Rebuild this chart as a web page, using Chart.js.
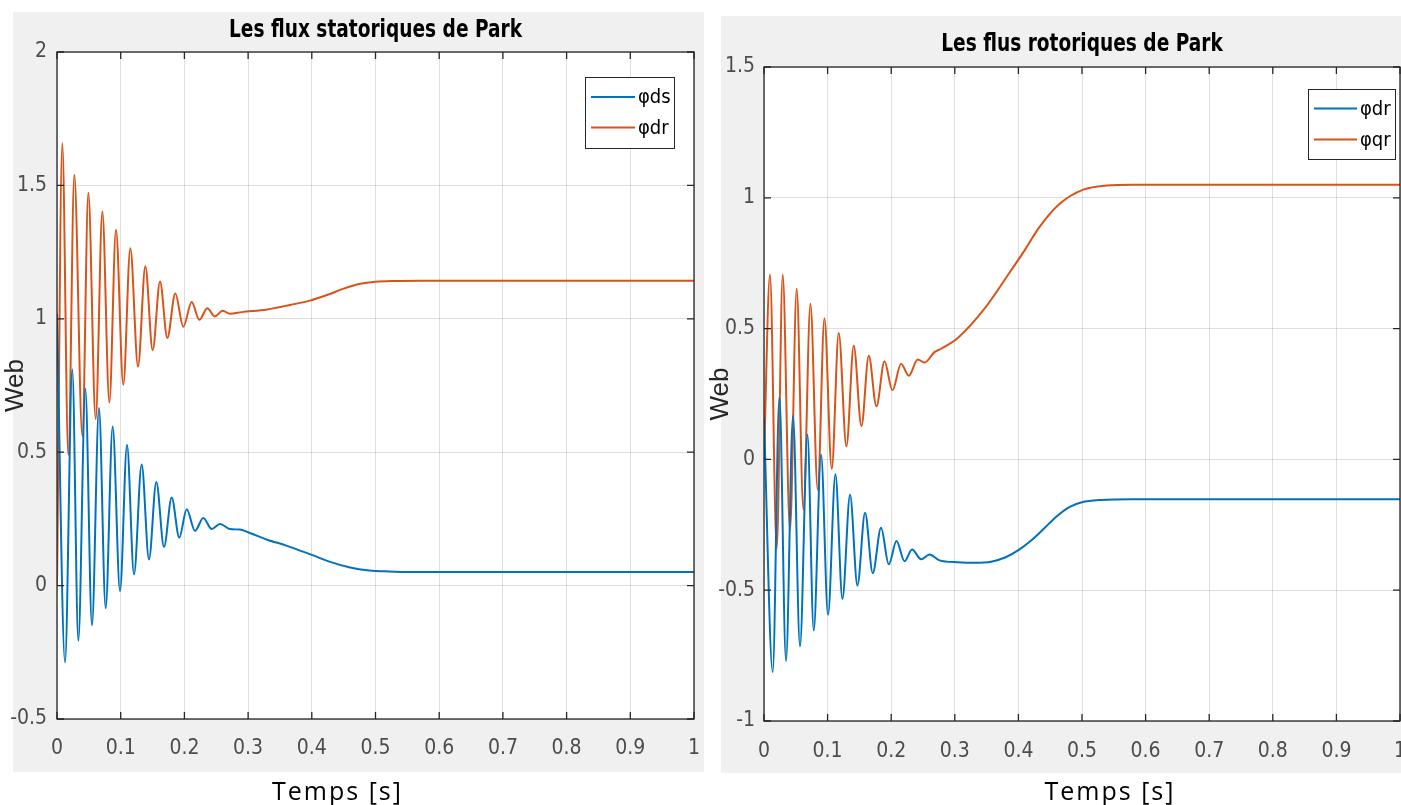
<!DOCTYPE html>
<html lang="fr">
<head>
<meta charset="utf-8">
<title>Flux de Park</title>
<script src="https://cdn.jsdelivr.net/npm/chart.js@4.4.1/dist/chart.umd.min.js"></script>
<style>
  html, body { margin: 0; padding: 0; background: #ffffff; }
  #wrap { position: relative; width: 1401px; height: 805px; overflow: hidden; }
  canvas { position: absolute; top: 0; }
  #stator { left: 0; }
  #rotor { left: 705px; }
</style>
</head>
<body>
<div id="wrap">
  <canvas id="stator" width="705" height="805"></canvas>
  <canvas id="rotor" width="696" height="805"></canvas>
</div>
<script>
// ---- axis ticks ----
const xTickValues = [0, 0.1, 0.2, 0.3, 0.4, 0.5, 0.6, 0.7, 0.8, 0.9, 1];
const xTickLabels = ['0', '0.1', '0.2', '0.3', '0.4', '0.5', '0.6', '0.7', '0.8', '0.9', '1'];
const statorYTickValues = [-0.5, 0, 0.5, 1, 1.5, 2];
const statorYTickLabels = ['-0.5', '0', '0.5', '1', '1.5', '2'];
const rotorYTickValues = [-1, -0.5, 0, 0.5, 1, 1.5];
const rotorYTickLabels = ['-1', '-0.5', '0', '0.5', '1', '1.5'];

// ---- series names ----
const statorSeriesLabels = ['φds', 'φdr'];
const rotorSeriesLabels = ['φdr', 'φqr'];

// ---- stator flux, d axis (time in s, flux in Wb) ----
const tStatorD = [0, 0.0126, 0.024, 0.0335, 0.0445, 0.0549, 0.0659, 0.0764, 0.0874, 0.0989,
  0.1099, 0.1209, 0.1329, 0.1444, 0.1559, 0.168, 0.18, 0.192, 0.2036, 0.2166,
  0.2297, 0.2428, 0.2559, 0.2716, 0.287, 0.30, 0.33, 0.36, 0.40, 0.43,
  0.46, 0.49, 0.52, 0.56, 0.65, 1.0];
const phiStatorD = [1.02, -0.288, 0.811, -0.207, 0.738, -0.149, 0.666, -0.085, 0.596, -0.020,
  0.527, 0.042, 0.454, 0.098, 0.388, 0.145, 0.330, 0.180, 0.286, 0.205,
  0.253, 0.212, 0.231, 0.212, 0.210, 0.200, 0.172, 0.150, 0.115, 0.088,
  0.068, 0.057, 0.053, 0.051, 0.051, 0.051];

// ---- stator panel, second trace ----
const tStatorQ = [0, 0.0083, 0.0178, 0.0272, 0.0398, 0.0492, 0.0607, 0.0712, 0.0822, 0.0926,
  0.1041, 0.1151, 0.1272, 0.1387, 0.1502, 0.1617, 0.1732, 0.1857, 0.1983, 0.2114,
  0.2234, 0.236, 0.2476, 0.26, 0.2716, 0.29, 0.33, 0.366, 0.397, 0.425,
  0.45, 0.476, 0.50, 0.53, 0.57, 0.65, 1.0];
const phiStatorQ = [0, 1.659, 0.489, 1.540, 0.560, 1.472, 0.624, 1.402, 0.686, 1.334,
  0.753, 1.264, 0.821, 1.197, 0.882, 1.140, 0.928, 1.095, 0.970, 1.063,
  0.996, 1.040, 1.009, 1.030, 1.019, 1.025, 1.035, 1.052, 1.068, 1.090,
  1.113, 1.131, 1.139, 1.142, 1.143, 1.143, 1.143];

// ---- rotor flux, d axis ----
const tRotorD = [0, 0.0137, 0.0242, 0.0346, 0.0456, 0.0566, 0.0683, 0.0782, 0.0897, 0.1007,
  0.1123, 0.1233, 0.1353, 0.1469, 0.1589, 0.171, 0.184, 0.1962, 0.2083, 0.2209,
  0.2328, 0.247, 0.2602, 0.2759, 0.3047, 0.331, 0.357, 0.38, 0.40, 0.42,
  0.44, 0.46, 0.48, 0.50, 0.53, 0.58, 1.0];
const phiRotorD = [0.16, -0.813, 0.238, -0.771, 0.166, -0.715, 0.094, -0.654, 0.019, -0.594,
  -0.057, -0.533, -0.135, -0.482, -0.204, -0.435, -0.261, -0.401, -0.312, -0.389,
  -0.344, -0.382, -0.364, -0.386, -0.393, -0.395, -0.391, -0.374, -0.347, -0.310,
  -0.265, -0.218, -0.182, -0.164, -0.155, -0.152, -0.152];

// ---- rotor flux, q axis ----
const tRotorQ = [0, 0.0094, 0.02, 0.0294, 0.0409, 0.0514, 0.062, 0.073, 0.0845, 0.095,
  0.1065, 0.1175, 0.1296, 0.1411, 0.1532, 0.1647, 0.1768, 0.1894, 0.202, 0.2155,
  0.2276, 0.2418, 0.2523, 0.268, 0.2785, 0.3047, 0.3467, 0.383, 0.41, 0.433,
  0.465, 0.502, 0.539, 0.58, 1.0];
const phiRotorQ = [0.0, 0.707, -0.342, 0.707, -0.271, 0.652, -0.192, 0.595, -0.116, 0.540,
  -0.036, 0.483, 0.050, 0.434, 0.127, 0.396, 0.203, 0.375, 0.264, 0.366,
  0.320, 0.382, 0.370, 0.410, 0.423, 0.464, 0.576, 0.703, 0.80, 0.888,
  0.977, 1.031, 1.047, 1.050, 1.050];

// ---- styling ----
const BLUE = '#0072BD';
const ORANGE = '#D95319';
const AXIS = '#262626';
const GRID = 'rgba(38,38,38,0.15)';
const TICK_TEXT = '#4d4d4d';
const NARROW = "'Liberation Sans Narrow', 'Arial Narrow', 'DejaVu Sans Condensed', 'Liberation Sans', sans-serif";
const SANS = "'Liberation Sans', Arial, sans-serif";
const CAPTION = "'Open Sans', 'Noto Sans', sans-serif";

const toPoints = (ts, vs) => ts.map((t, i) => ({ x: t, y: vs[i] }));

// Figure chrome: grey panel, white axes box, inward ticks on all four sides,
// title, boxed legend and the time caption under the panel.
const matlabFrame = {
  id: 'matlabFrame',
  beforeDraw(chart, args, o) {
    const { ctx, chartArea: a } = chart;
    ctx.save();
    ctx.fillStyle = '#f0f0f0';
    ctx.fillRect(o.panel.left, o.panel.top, o.panel.right - o.panel.left, o.panel.bottom - o.panel.top);
    ctx.fillStyle = '#ffffff';
    ctx.fillRect(a.left, a.top, a.right - a.left, a.bottom - a.top);
    ctx.restore();
  },
  afterDraw(chart, args, o) {
    const { ctx, chartArea: a, scales } = chart;
    const x = scales.x, y = scales.y;
    const L = 7;
    ctx.save();
    ctx.strokeStyle = AXIS;
    ctx.lineWidth = 1.3;
    ctx.beginPath();
    x.ticks.forEach(t => {
      const px = x.getPixelForValue(t.value);
      ctx.moveTo(px, a.bottom); ctx.lineTo(px, a.bottom - L);
      ctx.moveTo(px, a.top); ctx.lineTo(px, a.top + L);
    });
    y.ticks.forEach(t => {
      const py = y.getPixelForValue(t.value);
      ctx.moveTo(a.left, py); ctx.lineTo(a.left + L, py);
      ctx.moveTo(a.right, py); ctx.lineTo(a.right - L, py);
    });
    ctx.stroke();
    ctx.strokeRect(a.left, a.top, a.right - a.left, a.bottom - a.top);

    // title, condensed horizontally
    ctx.save();
    ctx.fillStyle = '#000000';
    ctx.font = 'bold ' + o.titleSize + 'px ' + NARROW;
    ctx.textAlign = 'center';
    ctx.textBaseline = 'alphabetic';
    ctx.translate((a.left + a.right) / 2, o.titleBaseline);
    ctx.scale(o.titleStretch, 1);
    ctx.fillText(o.title, 0, 0);
    ctx.restore();

    // legend
    const lg = o.legend;
    const bx = a.right - lg.right - lg.width;
    const by = a.top + lg.top;
    ctx.fillStyle = '#ffffff';
    ctx.fillRect(bx, by, lg.width, lg.height);
    ctx.strokeStyle = AXIS;
    ctx.lineWidth = 1;
    ctx.strokeRect(bx + 0.5, by + 0.5, lg.width, lg.height);
    ctx.font = lg.fontSize + 'px ' + NARROW;
    ctx.textAlign = 'left';
    ctx.textBaseline = 'middle';
    chart.data.datasets.forEach((ds, i) => {
      const ry = by + lg.rows[i];
      ctx.strokeStyle = ds.borderColor;
      ctx.lineWidth = 2;
      ctx.beginPath();
      ctx.moveTo(bx + 6, ry);
      ctx.lineTo(bx + 6 + lg.sample, ry);
      ctx.stroke();
      ctx.fillStyle = '#000000';
      ctx.fillText(ds.label, bx + 9 + lg.sample, ry + 1);
    });

    // time caption
    ctx.fillStyle = '#000000';
    ctx.font = o.captionSize + 'px ' + CAPTION;
    if ('letterSpacing' in ctx) ctx.letterSpacing = '2px';
    ctx.textAlign = 'center';
    ctx.textBaseline = 'alphabetic';
    ctx.fillText(o.caption, o.captionX, o.captionBaseline);
    ctx.restore();
  }
};

function makePanel(id, spec) {
  return new Chart(document.getElementById(id), {
    type: 'line',
    data: {
      datasets: [
        { label: spec.labels[0], data: spec.series[0], borderColor: BLUE, backgroundColor: BLUE },
        { label: spec.labels[1], data: spec.series[1], borderColor: ORANGE, backgroundColor: ORANGE }
      ]
    },
    options: {
      responsive: false,
      animation: false,
      devicePixelRatio: 1,
      events: [],
      layout: { autoPadding: false, padding: { left: 0, top: spec.top, right: spec.right, bottom: 0 } },
      elements: {
        point: { radius: 0 },
        line: { borderWidth: 2, cubicInterpolationMode: 'monotone', fill: false }
      },
      plugins: {
        legend: { display: false },
        tooltip: { enabled: false },
        title: { display: false },
        matlabFrame: spec.frame
      },
      scales: {
        x: {
          type: 'linear', min: 0, max: 1,
          afterBuildTicks: s => { s.ticks = xTickValues.map(v => ({ value: v })); },
          afterFit: s => { s.height = spec.xAxisHeight; s.paddingLeft = 0; s.paddingRight = 0; },
          ticks: {
            autoSkip: false, maxRotation: 0, color: TICK_TEXT, padding: spec.xTickPad,
            font: { family: NARROW, size: 21 },
            callback: (v, i) => xTickLabels[i]
          },
          grid: { color: GRID, lineWidth: 1, drawTicks: false },
          border: { display: false }
        },
        y: {
          type: 'linear', min: spec.yTicks[0], max: spec.yTicks[spec.yTicks.length - 1],
          afterBuildTicks: s => { s.ticks = spec.yTicks.map(v => ({ value: v })); },
          afterFit: s => { s.width = spec.yAxisWidth; s.paddingTop = 0; s.paddingBottom = 0; },
          ticks: {
            autoSkip: false, color: TICK_TEXT, padding: spec.yTickPad,
            font: { family: NARROW, size: 21 },
            callback: (v, i) => spec.yLabels[i]
          },
          grid: { color: GRID, lineWidth: 1, drawTicks: false },
          border: { display: false },
          title: {
            display: true, text: 'Web', color: AXIS,
            font: { family: SANS, size: 26 }, padding: { top: 0, bottom: spec.yTitlePad }
          }
        }
      }
    },
    plugins: [matlabFrame]
  });
}

makePanel('stator', {
  labels: statorSeriesLabels,
  series: [toPoints(tStatorD, phiStatorD), toPoints(tStatorQ, phiStatorQ)],
  yTicks: statorYTickValues, yLabels: statorYTickLabels,
  top: 52, right: 11, xAxisHeight: 86, yAxisWidth: 57,
  xTickPad: 17, yTickPad: 10, yTitlePad: 7,
  frame: {
    panel: { left: 13, top: 12, right: 704, bottom: 772 },
    title: 'Les flux statoriques de Park', titleSize: 24, titleStretch: 0.86, titleBaseline: 37,
    legend: { right: 20, top: 25, width: 89, height: 71, sample: 44, rows: [20, 50.5], fontSize: 20 },
    caption: 'Temps [s]', captionSize: 25, captionX: 337.5, captionBaseline: 799.5
  }
});

makePanel('rotor', {
  labels: rotorSeriesLabels,
  series: [toPoints(tRotorD, phiRotorD), toPoints(tRotorQ, phiRotorQ)],
  yTicks: rotorYTickValues, yLabels: rotorYTickLabels,
  top: 67, right: 1, xAxisHeight: 84, yAxisWidth: 59,
  xTickPad: 18, yTickPad: 9, yTitlePad: 12,
  frame: {
    panel: { left: 16, top: 16, right: 696, bottom: 773 },
    title: 'Les flus rotoriques de Park', titleSize: 24, titleStretch: 0.86, titleBaseline: 51,
    legend: { right: 5, top: 22, width: 87, height: 70, sample: 43, rows: [19.5, 50.5], fontSize: 20 },
    caption: 'Temps [s]', captionSize: 25, captionX: 405, captionBaseline: 799.5
  }
});
</script>
</body>
</html>
